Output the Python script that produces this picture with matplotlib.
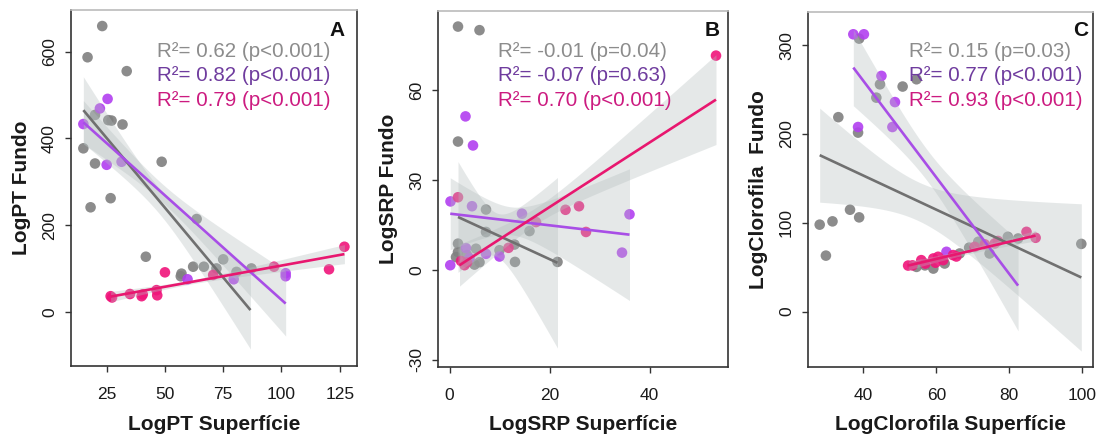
import numpy as np
import matplotlib
matplotlib.use("Agg")
import matplotlib.pyplot as plt

plt.rcParams['font.family'] = ['Liberation Sans', 'DejaVu Sans']

W, H = 1106, 441
DPI = 100

# ---------------- data ----------------
# Panel A : LogPT
A_gray_x = [23.1, 16.8, 33.6, 20.0, 25.7, 27.1, 31.8, 15.0, 20.0, 48.6, 18.1, 26.7, 63.6, 41.8, 56.8, 57.1, 62.1, 66.7, 75.0, 72.1, 80.7, 87.1]
A_gray_y = [659, 587, 555, 454, 442, 441, 432, 377, 342, 346, 241, 262, 214, 127, 82, 88, 104, 104, 121, 100, 92, 100]
A_purple_x = [25.4, 22.1, 15.0, 25.0, 31.4, 59.7, 79.5, 101.8, 101.8]
A_purple_y = [491, 469, 433, 339, 346, 75, 75, 89, 82]
A_pink_x = [26.7, 27.3, 35.0, 40.0, 40.5, 46.7, 46.4, 50.0, 70.7, 96.8, 120.4, 127.0]
A_pink_y = [36, 33, 41, 36, 40, 38, 50, 91, 85, 104, 98, 150]

# Panel B : LogSRP
B_gray_x = [1.7, 6.0, 1.7, 7.3, 16.0, 7.3, 13.1, 21.6, 1.7, 1.7, 1.3, 5.3, 6.0, 5.0, 10.0, 13.0, 3.5]
B_gray_y = [81.3, 80.1, 42.9, 20.2, 13.0, 12.7, 2.7, 2.7, 8.8, 6.0, 4.3, 7.1, 2.6, 1.8, 6.6, 8.5, 5.0]
B_purple_x = [3.2, 4.7, 0.2, 4.5, 14.5, 36.0, 34.5, 0.15, 3.3, 7.3, 10.0, 4.0]
B_purple_y = [51.3, 41.6, 22.9, 21.3, 18.8, 18.6, 5.8, 1.6, 7.3, 5.4, 4.5, 4.0]
B_pink_x = [53.3, 1.7, 17.3, 23.2, 25.9, 27.3, 3.0, 3.5, 11.8, 2.3]
B_pink_y = [71.6, 24.3, 16.0, 20.1, 21.3, 12.7, 1.6, 2.5, 7.4, 3.0]

# Panel C : LogClorofila
C_gray_x = [38.9, 44.6, 50.8, 54.6, 43.6, 33.2, 38.6, 36.4, 38.9, 28.1, 31.6, 29.8, 99.7, 54.6, 59.2, 62.3, 66.4, 71.5, 74.6, 79.6, 82.4, 56.9, 69.0]
C_gray_y = [307.5, 256, 253.5, 261.7, 241, 219, 201.6, 114.7, 106.1, 97.9, 101.6, 63, 76.2, 50.3, 48.4, 54.1, 65.4, 78.6, 65.4, 84.2, 82.3, 52, 72]
C_purple_x = [37.3, 40.2, 45.0, 48.7, 38.6, 48.0, 62.8]
C_purple_y = [312.4, 312.4, 265.5, 236, 207.9, 207.9, 67.3]
C_pink_x = [52.3, 53.5, 55.9, 57.0, 59.2, 60.5, 61.9, 59.8, 64.6, 65.5, 70.5, 73.3, 76.0, 76.9, 84.7, 87.2]
C_pink_y = [51.8, 52, 57.9, 54, 59.8, 61.7, 57.9, 55, 63.6, 62, 72.9, 75.7, 76.7, 79.5, 89.8, 83.1]

# fitted lines: (x_start, x_end, y_start, y_end)
A_fit = {'gray': (15.0, 86.7, 465, 4), 'purple': (15.0, 101.8, 437, 19), 'pink': (26.7, 127.0, 35, 133)}
B_fit = {'gray': (1.7, 21.6, 17.7, 2.4), 'purple': (0.15, 36.0, 18.8, 11.8), 'pink': (2.0, 53.3, 1.6, 56.9)}
C_fit = {'gray': (28.1, 99.7, 176.2, 38.4), 'purple': (37.3, 82.4, 274.9, 29.2), 'pink': (52.3, 87.2, 51.8, 85.6)}
# confidence band half widths (start, middle, end)
A_band = {'gray': (77, 30, 90), 'purple': (50, 25, 75), 'pink': (12, 7, 22)}
B_band = {'gray': (18.5, 9, 28.5), 'purple': (12, 7, 22), 'pink': (7, 5, 15)}
C_band = {'gray': (53, 27, 83), 'purple': (43, 18, 51), 'pink': (5, 3, 6)}

A_r2 = ["R²= 0.62 (p<0.001)", "R²= 0.82 (p<0.001)", "R²= 0.79 (p<0.001)"]
B_r2 = ["R²= -0.01 (p=0.04)", "R²= -0.07 (p=0.63)", "R²= 0.70 (p<0.001)"]
C_r2 = ["R²= 0.15 (p=0.03)", "R²= 0.77 (p<0.001)", "R²= 0.93 (p<0.001)"]

A_xticks = [25, 50, 75, 100, 125]; A_yticks = [0, 200, 400, 600]
B_xticks = [0, 20, 40]; B_yticks = [-30, 0, 30, 60]
C_xticks = [40, 60, 80, 100]; C_yticks = [0, 100, 200, 300]

# ---------------- style ----------------
pt_col = {'gray': '#808080', 'purple': '#b23ff0', 'pink': '#f0147a'}
ln_col = {'gray': '#707070', 'purple': '#a84ee6', 'pink': '#e8176f'}
tx_col = ['#8c8c8c', '#6f3c9e', '#cc1b80']
band_col = '#b4bebe'

fig = plt.figure(figsize=(W / DPI, H / DPI), dpi=DPI)


def px_rect(l, t, r, b):
    return [l / W, 1 - b / H, (r - l) / W, (b - t) / H]


def half_width(x, x0, x1, h):
    t = (x - (x0 + x1) / 2) / ((x1 - x0) / 2)
    h0, hm, h1 = h
    a = hm ** 2
    b = (h1 ** 2 - h0 ** 2) / 2
    c = (h1 ** 2 + h0 ** 2) / 2 - hm ** 2
    return np.sqrt(np.maximum(a + b * t + c * t ** 2, 0))


panels = [
    dict(rect=(71, 10, 357, 366), xlim=(9.7, 132.4), ylim=(-125, 696),
         pts={'gray': (A_gray_x, A_gray_y), 'purple': (A_purple_x, A_purple_y), 'pink': (A_pink_x, A_pink_y)},
         fit=A_fit, band=A_band, r2=A_r2, r2x=156.7, letter='A', letx=337,
         xt=A_xticks, yt=A_yticks, xl='LogPT Superfície', yl='LogPT Fundo'),
    dict(rect=(438, 11, 728, 367), xlim=(-2.3, 55.7), ylim=(-32.4, 86.5),
         pts={'gray': (B_gray_x, B_gray_y), 'purple': (B_purple_x, B_purple_y), 'pink': (B_pink_x, B_pink_y)},
         fit=B_fit, band=B_band, r2=B_r2, r2x=497.7, letter='B', letx=711.7,
         xt=B_xticks, yt=B_yticks, xl='LogSRP Superfície', yl='LogSRP Fundo'),
    dict(rect=(808, 12, 1093, 367), xlim=(24.9, 102.9), ylim=(-62.5, 337.5),
         pts={'gray': (C_gray_x, C_gray_y), 'purple': (C_purple_x, C_purple_y), 'pink': (C_pink_x, C_pink_y)},
         fit=C_fit, band=C_band, r2=C_r2, r2x=909, letter='C', letx=1080.7,
         xt=C_xticks, yt=C_yticks, xl='LogClorofila Superfície', yl='LogClorofila  Fundo'),
]

for p in panels:
    l, t, r, b = p['rect']
    ax = fig.add_axes(px_rect(l, t, r, b))
    ax.set_xlim(*p['xlim'])
    ax.set_ylim(*p['ylim'])
    for g in ['gray', 'purple', 'pink']:
        xs, ys = p['pts'][g]
        ax.scatter(xs, ys, s=58, color=pt_col[g], alpha=0.9, edgecolors='none', zorder=1)
    for g in ['gray', 'purple', 'pink']:
        x0, x1, y0, y1 = p['fit'][g]
        xx = np.linspace(x0, x1, 80)
        yy = y0 + (y1 - y0) * (xx - x0) / (x1 - x0)
        hw = half_width(xx, x0, x1, p['band'][g])
        ax.fill_between(xx, yy - hw, yy + hw, color=band_col, alpha=0.34, lw=0, zorder=2)
        ax.plot(xx, yy, color=ln_col[g], lw=1.9, zorder=3, solid_capstyle='butt')
    ax.set_xticks(p['xt'])
    ax.set_yticks(p['yt'])
    ax.set_xticklabels([str(v) for v in p['xt']])
    ax.set_yticklabels([str(v) for v in p['yt']], rotation=90, va='center')
    ax.tick_params(axis='both', direction='out', length=4.5, width=1.0, color='#333333',
                   labelsize=12.5, labelcolor='#1a1a1a')
    ax.tick_params(axis='x', pad=10.5)
    ax.tick_params(axis='y', pad=5.5)
    for s in ['left', 'bottom', 'right']:
        ax.spines[s].set_color('#333333')
        ax.spines[s].set_linewidth(1.2)
    ax.spines['top'].set_color('#bbbbbb')
    ax.spines['top'].set_linewidth(1.2)
    aw, ah = r - l, b - t
    ax.set_xlabel(p['xl'], fontsize=15, fontweight='bold', color='#1a1a1a', va='center')
    ax.xaxis.set_label_coords(0.5, -(425 - b) / ah)
    ax.set_ylabel(p['yl'], fontsize=15, fontweight='bold', color='#1a1a1a', va='center')
    ax.yaxis.set_label_coords(-50 / aw, 0.5)
    for i, txt in enumerate(p['r2']):
        fig.text(p['r2x'] / W, 1 - (51.7 + 24.2 * i) / H, txt, color=tx_col[i],
                 fontsize=14.8, ha='left', va='center')
    fig.text(p['letx'] / W, 1 - 30 / H, p['letter'], fontsize=15, fontweight='bold',
             ha='center', va='center', color='#111111')

fig.savefig('out.png', dpi=DPI)
